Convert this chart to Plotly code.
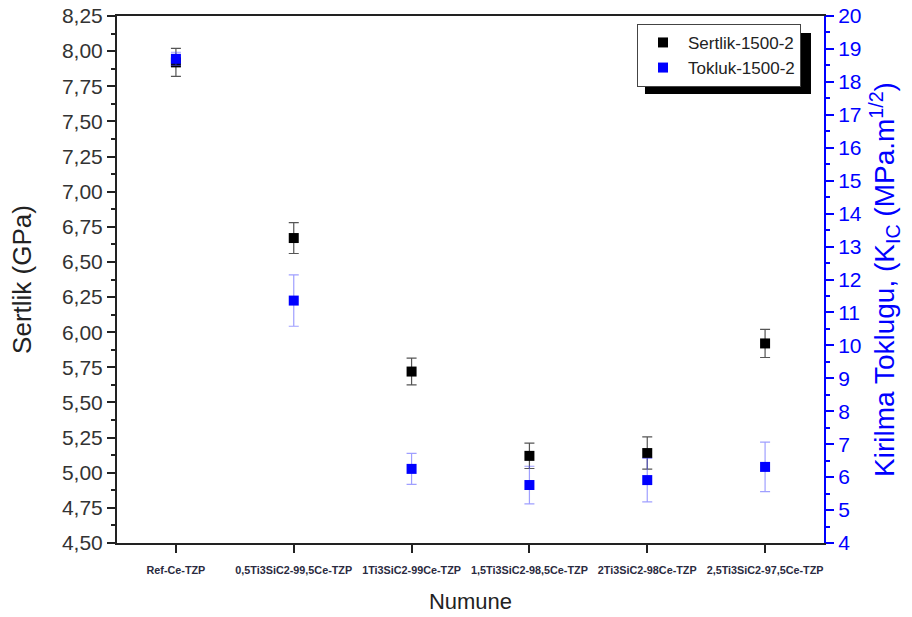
import plotly.graph_objects as go

categories = ["Ref-Ce-TZP", "0,5Ti3SiC2-99,5Ce-TZP", "1Ti3SiC2-99Ce-TZP",
              "1,5Ti3SiC2-98,5Ce-TZP", "2Ti3SiC2-98Ce-TZP", "2,5Ti3SiC2-97,5Ce-TZP"]
sertlik = [7.92, 6.67, 5.72, 5.12, 5.14, 5.92]
sertlik_err = [0.10, 0.11, 0.095, 0.09, 0.115, 0.10]
tokluk = [18.7, 11.36, 6.25, 5.76, 5.91, 6.31]
tokluk_err = [0.2, 0.78, 0.47, 0.57, 0.66, 0.75]

xpos = list(range(len(categories)))
FONT = "Liberation Sans, Arial, sans-serif"

fig = go.Figure()
fig.add_trace(go.Scatter(
    x=xpos, y=sertlik, mode="markers", name="Sertlik-1500-2",
    marker=dict(symbol="square", size=10, color="black"),
    error_y=dict(type="data", array=sertlik_err, visible=True,
                 color="#555555", thickness=1.2, width=5),
    yaxis="y"))
fig.add_trace(go.Scatter(
    x=xpos, y=tokluk, mode="markers", name="Tokluk-1500-2",
    marker=dict(symbol="square", size=10, color="#0000ff"),
    error_y=dict(type="data", array=tokluk_err, visible=True,
                 color="rgba(80,80,255,0.55)", thickness=1.2, width=5),
    yaxis="y2"))

fig.update_layout(
    width=912, height=617,
    margin=dict(l=117, r=88, t=16, b=74, autoexpand=False),
    paper_bgcolor="white", plot_bgcolor="white",
    separators=",.",
    font=dict(family=FONT, color="#222222"),
    showlegend=True,
    legend=dict(x=0.7355, y=0.985, xanchor="left", yanchor="top",
                bgcolor="white", bordercolor="#444444", borderwidth=1,
                font=dict(size=17, family=FONT, color="#222222"),
                tracegroupgap=0, itemwidth=40),
    xaxis=dict(
        range=[-0.5, 5.5], tickmode="array", tickvals=xpos, ticktext=categories,
        showgrid=False, zeroline=False, showline=True, linecolor="#222222",
        linewidth=2, mirror=True, ticks="outside", ticklen=8, tickwidth=2,
        tickcolor="#222222", ticklabelstandoff=8, tickangle=0,
        tickfont=dict(size=10.8, family=FONT, color="#2a2a40", weight="bold"),
        title=dict(text="Numune", font=dict(size=22, family=FONT, color="#222222"),
                   standoff=19)),
    yaxis=dict(
        range=[4.5, 8.25], tickmode="linear", tick0=4.5, dtick=0.25,
        tickformat=".2f", showgrid=False, zeroline=False, showline=True,
        linecolor="#222222", linewidth=2, ticks="outside", ticklen=8,
        tickwidth=2, tickcolor="#222222", ticklabeloverflow="allow",
        minor=dict(dtick=0.125, ticks="outside", ticklen=4, tickwidth=1.5,
                   tickcolor="#222222", showgrid=False),
        tickfont=dict(size=21, family=FONT, color="#333333"),
        title=dict(text="Sertlik (GPa)", font=dict(size=26, family=FONT, color="#222222"),
                   standoff=23)),
    yaxis2=dict(
        range=[4, 20], tickmode="linear", tick0=4, dtick=1, overlaying="y",
        side="right", showgrid=False, zeroline=False, showline=True,
        linecolor="#0000ff", linewidth=2, ticks="outside", ticklen=8,
        tickwidth=2, tickcolor="#0000ff", ticklabeloverflow="allow",
        minor=dict(dtick=0.5, ticks="outside", ticklen=4, tickwidth=1.5,
                   tickcolor="#0000ff", showgrid=False),
        tickfont=dict(size=21, family=FONT, color="#0000ff"),
        title=dict(text="Kirilma Toklugu, (K<sub>IC</sub> (MPa.m<sup>1/2</sup>)",
                   font=dict(size=28, family=FONT, color="#0000ff"), standoff=14)),
    shapes=[dict(type="rect", xref="paper", yref="paper",
                 x0=0.7468, x1=0.9816, y0=0.852, y1=0.9677,
                 fillcolor="black", line=dict(width=0), layer="below")],
)

# remove the browser's default 8px body margin so the figure fills the window
fig.write_html("out.html", config={"displayModeBar": False},
               post_script="document.body.style.margin='0px';")
